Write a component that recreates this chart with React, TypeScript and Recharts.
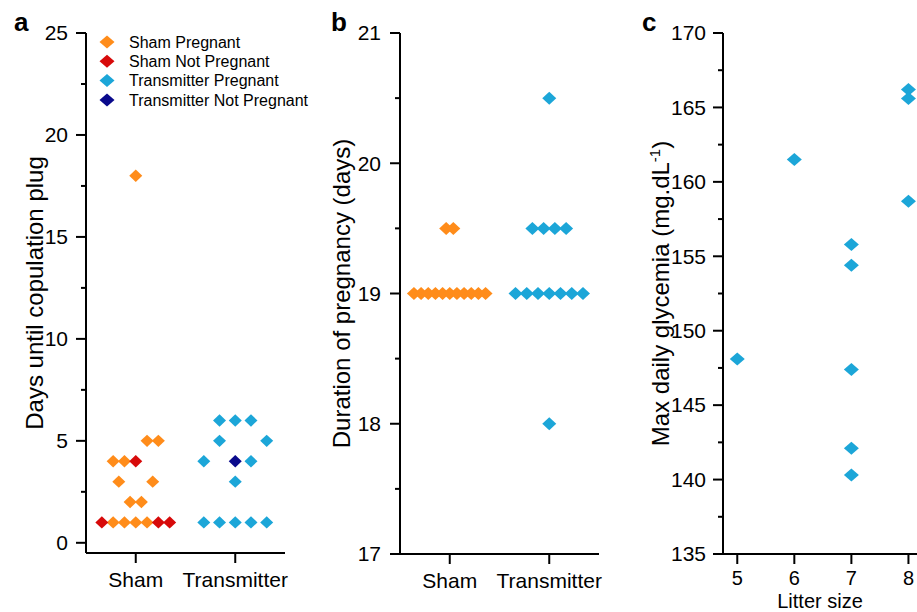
import React from "react";
import { ScatterChart, Scatter, XAxis, YAxis, Legend } from "recharts";

const FONT = "'Liberation Sans', Arial, Helvetica, sans-serif";

const groups = ["Sham", "Transmitter"];
const seriesNames = ["Sham Pregnant", "Sham Not Pregnant", "Transmitter Pregnant", "Transmitter Not Pregnant"];

// a: days until copulation plug (value + dot-plot column of each point)
const plugShamPreg = [1, 1, 1, 1, 2, 2, 3, 3, 4, 4, 5, 5, 18];
const plugShamPregCol = [-2, -1, 0, 1, -0.5, 0.5, -1.5, 1.5, -2, -1, 1, 2, 0];
const plugShamNot = [1, 1, 1, 4];
const plugShamNotCol = [-3, 2, 3, 0];
const plugTxPreg = [1, 1, 1, 1, 1, 3, 4, 4, 5, 5, 6, 6, 6];
const plugTxPregCol = [-2, -1, 0, 1, 2, 0, -2, 1, -1, 2, -1, 0, 1];
const plugTxNot = [4];
const plugTxNotCol = [0];

// b: duration of pregnancy (days)
const durShamPreg = [19, 19, 19, 19, 19, 19, 19, 19, 19, 19, 19, 19.5, 19.5];
const durShamPregCol = [-5, -4, -3, -2, -1, 0, 1, 2, 3, 4, 5, -0.5, 0.5];
const durTxPreg = [18, 19, 19, 19, 19, 19, 19, 19, 19.5, 19.5, 19.5, 19.5, 20.5];
const durTxPregCol = [0, -3, -2, -1, 0, 1, 2, 3, -1.5, -0.5, 0.5, 1.5, 0];

// c: max daily glycemia vs litter size
const litterSize = [5, 6, 7, 7, 7, 7, 7, 8, 8, 8];
const maxGlycemia = [148.1, 161.5, 155.8, 154.4, 147.4, 142.1, 140.3, 166.2, 165.6, 158.7];

const plugTicks = [0, 5, 10, 15, 20, 25];
const plugMinor = [2.5, 7.5, 12.5, 17.5, 22.5];
const durTicks = [17, 18, 19, 20, 21];
const durMinor = [17.5, 18.5, 19.5, 20.5];
const litterTicks = [5, 6, 7, 8];
const glyTicks = [135, 140, 145, 150, 155, 160, 165, 170];
const glyMinor = [137.5, 142.5, 147.5, 152.5, 157.5, 162.5, 167.5];

const ORANGE = "#FF8C1A";
const RED = "#D70A0A";
const CYAN = "#1CA6D8";
const NAVY = "#0A0A8C";

const toPoints = (vals: number[], cols: number[], group: number, step: number) =>
  vals.map((y, i) => ({ x: group + cols[i] * step, y }));

const diamondPts = (cx: number, cy: number, w: number, h: number) =>
  `${cx},${cy - h} ${cx + w},${cy} ${cx},${cy + h} ${cx - w},${cy}`;

const diamond = (w: number, h: number, color: string) => (p: any) =>
  <polygon points={diamondPts(p.cx, p.cy, w, h)} fill={color} />;

const YTick = (props: any) => {
  const { x, y, payload, majors, gap } = props;
  const major = majors.includes(payload.value);
  const len = major ? 10 : 5;
  return (
    <g>
      <line x1={x - len} x2={x} y1={y} y2={y} stroke="#000" strokeWidth={2} />
      {major && (
        <text x={x - len - gap} y={y} dy="0.35em" textAnchor="end" fontSize={21} fontFamily={FONT} fill="#000">
          {payload.value}
        </text>
      )}
    </g>
  );
};

const XTick = (props: any) => {
  const { x, y, payload, labels, size } = props;
  const text = labels ? labels[payload.value - 1] : payload.value;
  return (
    <text x={x} y={y} dy="0.71em" textAnchor="middle" fontSize={size || 21} fontFamily={FONT} fill="#000">
      {text}
    </text>
  );
};

const AxisTitle = (props: any) => {
  const { x, y, children } = props;
  return (
    <text x={x} y={y} transform={`rotate(-90 ${x} ${y})`} textAnchor="middle" fontSize={24} fontFamily={FONT} fill="#000">
      {children}
    </text>
  );
};

const LegendBox = (props: any) => {
  const payload = [...(props.payload || [])].sort(
    (a: any, b: any) => seriesNames.indexOf(a.value) - seriesNames.indexOf(b.value)
  );
  return (
    <svg width={240} height={84} style={{ display: "block" }}>
      {payload.map((e: any, i: number) => {
        const cy = 10 + i * 19.3;
        return (
          <g key={i}>
            <polygon points={diamondPts(9, cy, 7.5, 6.5)} fill={e.color || (e.payload && e.payload.fill)} />
            <text x={31} y={cy} dy="0.36em" fontSize={16} fontFamily={FONT} fill="#000">
              {e.value}
            </text>
          </g>
        );
      })}
    </svg>
  );
};

const axisLine = { stroke: "#000", strokeWidth: 2 };

export default function App() {
  return (
    <div style={{ position: "absolute", left: 0, top: 0, width: 917, height: 612, background: "#fff", overflow: "hidden" }}>
      {/* a */}
      <div style={{ position: "absolute", left: 0, top: 0 }}>
        <ScatterChart width={300} height={612} margin={{ top: 33, right: 15, bottom: 0, left: 0 }}>
          <XAxis
            type="number"
            dataKey="x"
            domain={[0.5, 2.5]}
            ticks={[1, 2]}
            height={59}
            axisLine={axisLine}
            tickLine={axisLine}
            tickSize={10}
            tickMargin={9}
            tick={<XTick labels={groups} />}
            allowDataOverflow
          />
          <YAxis
            type="number"
            dataKey="y"
            domain={[-0.5, 25]}
            ticks={[...plugTicks, ...plugMinor]}
            width={86}
            axisLine={axisLine}
            tickLine={false}
            tickSize={0}
            tickMargin={0}
            tick={<YTick majors={plugTicks} gap={8} />}
            interval={0}
            allowDataOverflow
            label={<AxisTitle x={32} y={292}>Days until copulation plug</AxisTitle>}
          />
          <Legend
            layout="vertical"
            align="center"
            verticalAlign="middle"
            itemSorter={null}
            wrapperStyle={{ left: 98, top: 32, width: 240, height: 84 }}
            content={<LegendBox />}
          />
          <Scatter name="Sham Pregnant" data={toPoints(plugShamPreg, plugShamPregCol, 1, 0.1136)} fill={ORANGE} shape={diamond(6.5, 6.2, ORANGE)} isAnimationActive={false} />
          <Scatter name="Sham Not Pregnant" data={toPoints(plugShamNot, plugShamNotCol, 1, 0.1136)} fill={RED} shape={diamond(6.5, 6.2, RED)} isAnimationActive={false} />
          <Scatter name="Transmitter Pregnant" data={toPoints(plugTxPreg, plugTxPregCol, 2, 0.158)} fill={CYAN} shape={diamond(6.5, 6.2, CYAN)} isAnimationActive={false} />
          <Scatter name="Transmitter Not Pregnant" data={toPoints(plugTxNot, plugTxNotCol, 2, 0.158)} fill={NAVY} shape={diamond(6.5, 6.2, NAVY)} isAnimationActive={false} />
        </ScatterChart>
      </div>

      {/* b */}
      <div style={{ position: "absolute", left: 300, top: 0 }}>
        <ScatterChart width={315} height={612} margin={{ top: 33, right: 16, bottom: 0, left: 0 }}>
          <XAxis
            type="number"
            dataKey="x"
            domain={[0.5, 2.5]}
            ticks={[1, 2]}
            height={58}
            axisLine={axisLine}
            tickLine={axisLine}
            tickSize={10}
            tickMargin={9}
            tick={<XTick labels={groups} />}
            allowDataOverflow
          />
          <YAxis
            type="number"
            dataKey="y"
            domain={[17, 21]}
            ticks={[...durTicks, ...durMinor]}
            width={100}
            axisLine={axisLine}
            tickLine={false}
            tickSize={0}
            tickMargin={0}
            tick={<YTick majors={durTicks} gap={9} />}
            interval={0}
            allowDataOverflow
            label={<AxisTitle x={48} y={291}>Duration of pregnancy (days)</AxisTitle>}
          />
          <Scatter name="Sham Pregnant" data={toPoints(durShamPreg, durShamPregCol, 1, 0.072)} fill={ORANGE} shape={diamond(7, 6.5, ORANGE)} isAnimationActive={false} />
          <Scatter name="Transmitter Pregnant" data={toPoints(durTxPreg, durTxPregCol, 2, 0.113)} fill={CYAN} shape={diamond(7, 6.5, CYAN)} isAnimationActive={false} />
        </ScatterChart>
      </div>

      {/* c */}
      <div style={{ position: "absolute", left: 615, top: 0 }}>
        <ScatterChart width={302} height={612} margin={{ top: 33, right: 0, bottom: 0, left: 0 }}>
          <XAxis
            type="number"
            dataKey="x"
            domain={[4.75, 8.15]}
            ticks={litterTicks}
            height={58}
            axisLine={axisLine}
            tickLine={axisLine}
            tickSize={10}
            tickMargin={7}
            tick={<XTick size={20} />}
            label={{ value: "Litter size", position: "insideBottom", offset: 4, fontSize: 20, fontFamily: FONT, fill: "#000" }}
          />
          <YAxis
            type="number"
            dataKey="y"
            domain={[135, 170]}
            ticks={[...glyTicks, ...glyMinor]}
            width={108}
            axisLine={axisLine}
            tickLine={false}
            tickSize={0}
            tickMargin={0}
            tick={<YTick majors={glyTicks} gap={7} />}
            interval={0}
            allowDataOverflow
            label={
              <AxisTitle x={45} y={293}>
                Max daily glycemia (mg.dL<tspan dy={-9} fontSize={15}>-1</tspan>
                <tspan dy={9} fontSize={24}>)</tspan>
              </AxisTitle>
            }
          />
          <Scatter
            name="Glycemia"
            data={litterSize.map((x, i) => ({ x, y: maxGlycemia[i] }))}
            fill={CYAN}
            shape={diamond(7.5, 6.5, CYAN)}
            isAnimationActive={false}
          />
        </ScatterChart>
      </div>

      <svg width={917} height={612} style={{ position: "absolute", left: 0, top: 0, pointerEvents: "none" }}>
        <text x={14} y={31} fontSize={26} fontWeight="bold" fontFamily={FONT}>a</text>
        <text x={331} y={31} fontSize={26} fontWeight="bold" fontFamily={FONT}>b</text>
        <text x={642} y={31} fontSize={26} fontWeight="bold" fontFamily={FONT}>c</text>
      </svg>
    </div>
  );
}
